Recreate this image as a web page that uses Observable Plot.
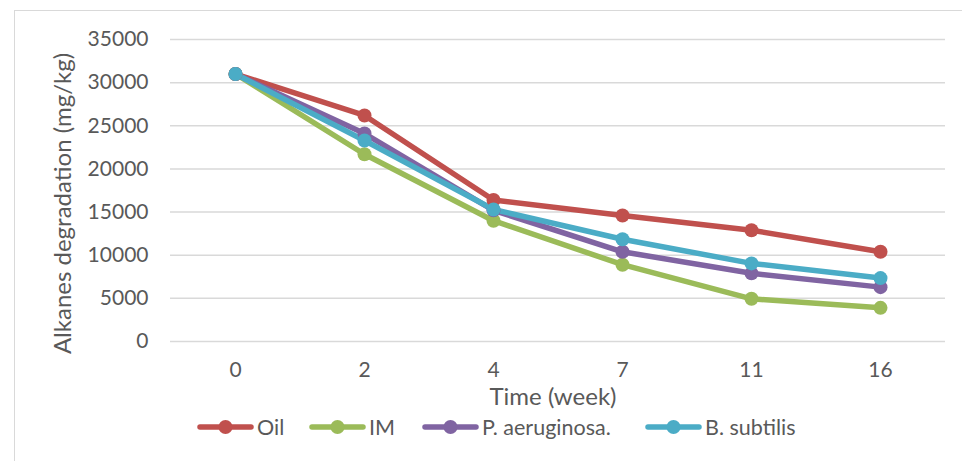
<!DOCTYPE html>
<html>
<head>
<meta charset="utf-8">
<script src="https://cdn.jsdelivr.net/npm/d3@7"></script>
<script src="https://cdn.jsdelivr.net/npm/@observablehq/plot@0.6"></script>
<style>
  html, body { margin: 0; padding: 0; background: #fff; }
  body { width: 962px; height: 461px; overflow: hidden; position: relative; font-family: Lato, "Open Sans", sans-serif; }
  #frame { position: absolute; left: 14px; top: 10px; width: 1000px; height: 500px; border: 1.5px solid #d9d9d9; box-sizing: border-box; }
  #chart { position: absolute; left: 0; top: 0; }
  #legend { position: absolute; left: 0; top: 410px; width: 962px; height: 51px; }
  .item { position: absolute; top: 5px; display: flex; align-items: center; font-size: 21.5px; color: #595959; height: 24px; }
  .item svg { margin-right: 3px; }
</style>
</head>
<body>
<div id="frame"></div>
<div id="chart"></div>
<div id="legend"></div>
<script>
const weeks = ["0", "2", "4", "7", "11", "16"];
const seriesNames = ["Oil", "IM", "P. aeruginosa.", "B. subtilis"];
const oil = [31000, 26200, 16400, 14600, 12900, 10400];
const im = [31000, 21700, 14000, 8900, 4950, 3900];
const pae = [31000, 24100, 15200, 10400, 7900, 6300];
const bsu = [31000, 23300, 15300, 11850, 9050, 7350];
const yTicks = [0, 5000, 10000, 15000, 20000, 25000, 30000, 35000];
const colors = ["#C0504D", "#9BBB59", "#8064A2", "#4BACC6"];
const yTitle = "Alkanes degradation (mg/kg)";
const xTitle = "Time (week)";

const allSeries = [oil, im, pae, bsu];
const rows = [];
allSeries.forEach((vals, si) => {
  vals.forEach((v, i) => rows.push({series: seriesNames[si], week: weeks[i], value: v}));
});

const plot = Plot.plot({
  width: 962,
  height: 410,
  marginTop: 39,
  marginBottom: 69,
  marginLeft: 170,
  marginRight: 17,
  style: {fontFamily: "Lato, 'Open Sans', sans-serif", fontSize: "21px", color: "#595959", background: "transparent"},
  x: {type: "point", domain: weeks, padding: 0.5, label: null},
  y: {domain: [0, 35000], label: null},
  color: {domain: seriesNames, range: colors},
  marks: [
    Plot.ruleY(yTicks, {stroke: "#d9d9d9", strokeWidth: 1.5}),
    Plot.axisY(yTicks, {tickSize: 0, tickPadding: 22, tickFormat: d => String(d), fill: "#595959", fontSize: 21, label: null}),
    Plot.axisX(weeks, {tickSize: 0, tickPadding: 21, fill: "#595959", fontSize: 21, label: null}),
    Plot.line(rows, {x: "week", y: "value", z: "series", stroke: "series", strokeWidth: 5.5, strokeLinecap: "round", strokeLinejoin: "round"}),
    Plot.dot(rows, {x: "week", y: "value", fill: "series", r: 7}),
    Plot.text([yTitle], {frameAnchor: "left", dx: -107, dy: 13, rotate: -90, textAnchor: "middle", lineAnchor: "middle", fontSize: 24, fill: "#595959"}),
    Plot.text([xTitle], {frameAnchor: "bottom", dx: -5, dy: 56, textAnchor: "middle", lineAnchor: "middle", fontSize: 24, fill: "#595959"})
  ]
});
document.getElementById("chart").appendChild(plot);

const legendX = [197, 309, 422, 645];
const legend = document.getElementById("legend");
seriesNames.forEach((name, i) => {
  const item = document.createElement("div");
  item.className = "item";
  item.style.left = legendX[i] + "px";
  item.innerHTML = `<svg width="57" height="18"><line x1="3" y1="9" x2="54" y2="9" stroke="${colors[i]}" stroke-width="5.5" stroke-linecap="round"/><circle cx="28.5" cy="9" r="7" fill="${colors[i]}"/></svg><span>${name}</span>`;
  legend.appendChild(item);
});
</script>
</body>
</html>
